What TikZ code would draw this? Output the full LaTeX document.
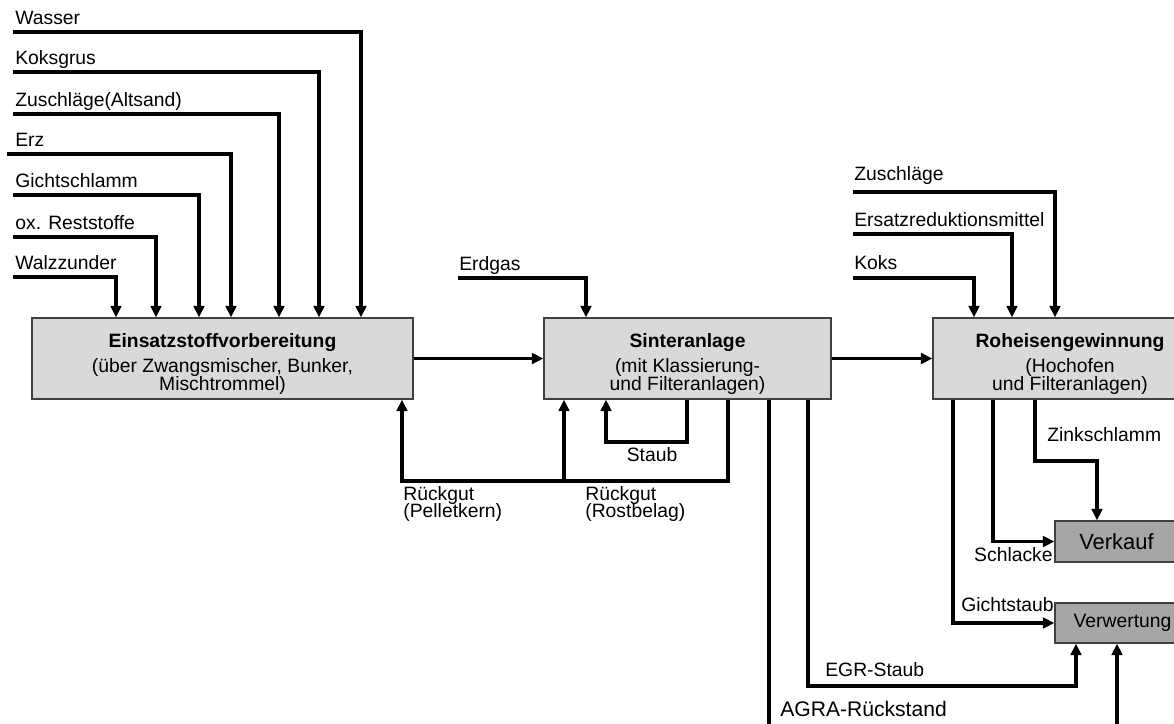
\documentclass[tikz,border=0pt]{standalone}
\usepackage{fontspec}
\setmainfont{Liberation Sans}
\usetikzlibrary{arrows.meta,positioning,calc}
\definecolor{procFill}{HTML}{D9D9D9}
\definecolor{outFill}{HTML}{A6A6A6}
\newcommand{\titleStrut}{\rule{0pt}{14pt}}
\tikzset{
    procBox/.style={
        rectangle,
        draw=black!75,
        line width=0.7pt,
        fill=procFill,
        align=center,
        inner sep=2pt
    },
    outBox/.style={rectangle, draw=black!75, line width=0.7pt, fill=outFill},
    % Connectors
    flow/.style={-{Triangle[length=6.5pt,width=6pt]}, line width=1.9pt},
    inLabel/.style={anchor=base west, inner sep=0pt},
    outLabel/.style={anchor=base east, inner sep=0pt}
}
\begin{document}
\begin{tikzpicture}[x=0.02cm, y=-0.02cm, font=\fontsize{11}{13}\selectfont]
    \useasboundingbox (0,0) rectangle (1174,724);
    \clip (0,0) rectangle (1174,724);

    % Process boxes
    \node[procBox, minimum width=7.62cm, minimum height=1.62cm] (prep) at (222.5,358.5)
        {\titleStrut\textbf{Einsatzstoffvorbereitung}\\[1.7pt](über Zwangsmischer, Bunker,\\[-3pt]Mischtrommel)};
    \node[procBox, minimum width=5.74cm, minimum height=1.62cm] (sinter) at (687.5,358.5)
        {\titleStrut\textbf{Sinteranlage}\\[1.7pt](mit Klassierung-\\[-3pt]und Filteranlagen)};
    \node[procBox, minimum width=5.48cm, minimum height=1.62cm] (hochofen) at (1070,358.5)
        {\titleStrut\textbf{Roheisengewinnung}\\[1.7pt](Hochofen\\[-3pt]und Filteranlagen)};
    \node[outBox, minimum width=2.46cm, minimum height=0.82cm, font=\fontsize{12.5}{14}\selectfont] (verkauf) at (1116.5,541.5) {Verkauf};
    \node[outBox, minimum width=2.7cm, minimum height=0.8cm] (verwertung) at (1122.5,623) {Verwertung};

    % Inputs of the preparation
    \foreach \i/\s/\y/\x/\word in {1/13/32/361/Wasser, 2/13/72/319/Koksgrus, 3/13/114/279/Zuschläge(Altsand), 4/7/154/231/Erz, 5/13/195/199/Gichtschlamm, 6/13/237/156/ox. Reststoffe, 7/13/277/116/Walzzunder} {
        \coordinate (src\i) at (\s,\y);
        \coordinate (knee\i) at (\x,\y);
        \node[inLabel] (lab\i) at (15,\y-8) {\word};
        \draw[flow] (src\i) -- (knee\i) -- (knee\i |- prep.north);
    }

    % Inputs of the sinter plant
    \coordinate (gasIn) at (458,278);
    \coordinate (gasKnee) at (586,278);
    \node[inLabel] (gasLab) at (459,270) {Erdgas};
    \draw[flow] (gasIn) -- (gasKnee) -- (gasKnee |- sinter.north);

    % Inputs of the blast furnace
    \foreach \i/\y/\x/\d/\word in {1/192/1055/12/Zuschläge, 2/234/1012/8/Ersatzreduktionsmittel, 3/278/974/9/Koks} {
        \coordinate (hsrc\i) at (853,\y);
        \coordinate (hknee\i) at (\x,\y);
        \node[inLabel] (hlab\i) at (854,\y-\d) {\word};
        \draw[flow] (hsrc\i) -- (hknee\i) -- (hknee\i |- hochofen.north);
    }

    % Main flow
    \draw[flow] (prep.east) -- (sinter.west);
    \draw[flow] (sinter.east) -- (hochofen.west);

    % Returns below the sinter plant
    \coordinate (rRost) at (728,481);
    \coordinate (rPel) at (402,481);
    \coordinate (rSin) at (564,481);
    \draw[flow] (rRost |- sinter.south) -- (rRost) -- (rPel) -- (rPel |- prep.south);
    \draw[flow] (rSin) -- (rSin |- sinter.south);
    \coordinate (st1) at (687,442);
    \coordinate (st2) at (606,442);
    \draw[flow] (st1 |- sinter.south) -- (st1) -- (st2) -- (st2 |- sinter.south);
    \node[anchor=base, inner sep=0pt] (staubLab) at (652,461) {Staub};
    \node[anchor=north west, align=left, inner sep=0pt] (pelLab) at (403,486) {Rückgut\\[-3pt](Pelletkern)};
    \node[anchor=north west, align=left, inner sep=0pt] (rostLab) at (585,486) {Rückgut\\[-3pt](Rostbelag)};

    % Residues to Verwertung
    \coordinate (ag1) at (769,770);
    \coordinate (ag2) at (1117,770);
    \draw[flow] (ag1 |- sinter.south) -- (ag1) -- (ag2) -- (ag2 |- verwertung.south);
    \node[inLabel, font=\fontsize{12}{14}\selectfont] (agraLab) at (780,716) {AGRA-Rückstand};
    \coordinate (egr1) at (808,686);
    \coordinate (egr2) at (1076,686);
    \draw[flow] (egr1 |- sinter.south) -- (egr1) -- (egr2) -- (egr2 |- verwertung.south);
    \node[inLabel] (egrLab) at (825,676) {EGR-Staub};

    % Outputs of the blast furnace
    \coordinate (gs) at (953,623);
    \draw[flow] (gs |- hochofen.south) -- (gs) -- (verwertung.west);
    \node[outLabel] (gsLab) at (1054,611) {Gichtstaub};
    \coordinate (sl) at (993,541.5);
    \draw[flow] (sl |- hochofen.south) -- (sl) -- (verkauf.west);
    \node[outLabel] (slLab) at (1053,561) {Schlacke};
    \coordinate (zk1) at (1035,461);
    \coordinate (zk2) at (1097,461);
    \draw[flow] (zk1 |- hochofen.south) -- (zk1) -- (zk2) -- (zk2 |- verkauf.north);
    \node[inLabel] (zkLab) at (1047,441) {Zinkschlamm};
\end{tikzpicture}
\end{document}
